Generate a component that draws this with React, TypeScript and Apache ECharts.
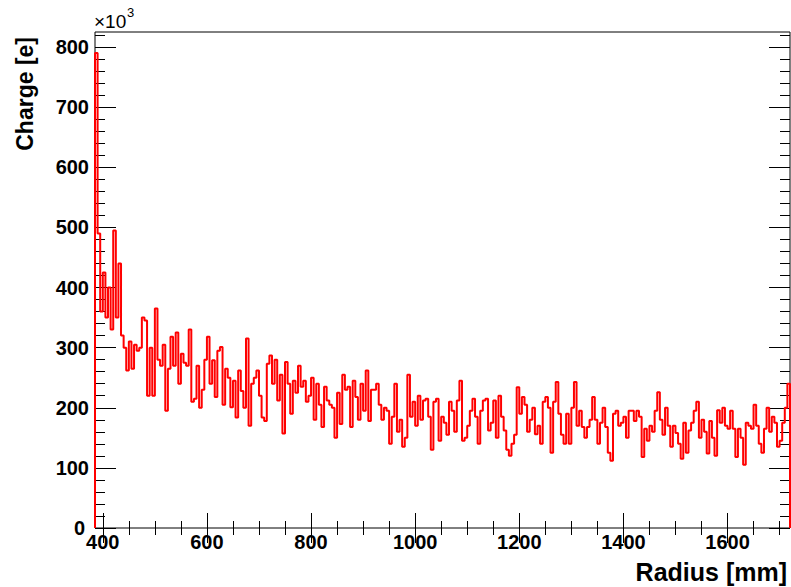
import React, { useEffect, useRef } from "react";
import * as echarts from "echarts";

// Histogram: bins of 5 mm starting at 385 mm; values in units of 10^3 e
const binStart = 385;
const binWidth = 5;
const xMin = 385;
const xMax = 1720;
const yMin = 0;
const yMax = 825;

const xLabelTicks = [400, 600, 800, 1000, 1200, 1400, 1600];
const yLabelTicks = [0, 100, 200, 300, 400, 500, 600, 700, 800];

const chargeA = [
  790, 490, 360, 425, 350, 400, 330, 495, 350, 440, 320, 300, 262, 310, 265, 305, 295, 300, 350, 345, 220, 300,
  220, 365, 280, 270, 305, 195, 265, 318, 270, 325, 240, 290, 275, 270, 330, 210, 215, 270, 200, 230, 280, 318,
];
const chargeB = [
  240, 279, 218, 295, 301, 205, 265, 250, 201, 245, 184, 262, 228, 200, 315, 170, 240, 250, 262, 220, 184, 178,
  273, 287, 240, 280, 212, 255, 157, 276, 240, 190, 245, 225, 270, 235, 245, 210, 220, 250, 180, 240, 205, 168, 235,
];
const chargeC = [
  212, 205, 200, 150, 225, 173, 255, 230, 235, 168, 245, 218, 180, 240, 195, 262, 178, 230, 230, 240, 205, 180,
  200, 195, 140, 185, 240, 160, 180, 135, 150, 255, 185, 210, 170, 220, 180, 212, 215, 185, 130, 210, 215, 145,
];
const chargeD = [
  185, 175, 155, 210, 195, 160, 212, 245, 145, 150, 170, 195, 215, 185, 140, 195, 212, 215, 162, 175, 212, 150,
  220, 185, 162, 130, 120, 140, 155, 234, 190, 218, 205, 160, 180, 200, 156, 170, 140, 210, 218, 200, 125, 210,
];
const chargeE = [
  243, 190, 155, 140, 190, 140, 200, 243, 170, 195, 168, 150, 168, 180, 218, 180, 140, 175, 200, 168, 125, 112,
  190, 195, 170, 175, 185, 150, 195, 195, 178, 195, 185, 118, 165, 145, 170, 160, 195, 226, 180, 155, 200, 170,
];
const chargeF = [
  135, 170, 158, 140, 115, 175, 125, 162, 175, 195, 210, 150, 180, 160, 124, 178, 150, 120, 196, 175, 200, 170,
  165, 195, 165, 118, 165, 150, 105, 175, 170, 165, 205, 170, 140, 125, 165, 200, 160, 185, 175, 135, 145, 175,
  200, 240,
];
const charge = [...chargeA, ...chargeB, ...chargeC, ...chargeD, ...chargeE, ...chargeF];

const FONT = "'Liberation Sans', Arial, Helvetica, sans-serif";

function buildSteps(): number[][] {
  const pts: number[][] = [[binStart, 0]];
  charge.forEach((v, i) => pts.push([binStart + i * binWidth, v]));
  const end = binStart + charge.length * binWidth;
  pts.push([end, charge[charge.length - 1]]);
  pts.push([end, 0]);
  return pts;
}

function minorList(from: number, to: number, step: number, majorStep: number): number[] {
  const out: number[] = [];
  for (let v = from; v <= to + 1e-9; v += step) {
    if (Math.abs(v % majorStep) > 1e-6) out.push(v);
  }
  return out;
}

export default function App() {
  const ref = useRef<HTMLDivElement>(null);
  useEffect(() => {
    document.body.style.margin = "0";
    const chart = echarts.init(ref.current!, undefined, { renderer: "svg" });
    const xMinor = minorList(400, 1700, 50, 200);
    const yMinor = minorList(20, 820, 20, 100);
    const tickStyle = { color: "#000", width: 1 };
    const labelStyle = {
      color: "#000",
      fontFamily: FONT,
      fontWeight: "bold" as const,
      fontSize: 20,
      lineHeight: 16,
    };
    const mkX = (position: string, ticks: number[], length: number, label: boolean) => ({
      type: "value",
      min: xMin,
      max: xMax,
      position,
      axisLine: { show: false },
      splitLine: { show: false },
      axisTick: { show: true, inside: true, length, customValues: ticks, lineStyle: tickStyle },
      axisLabel: label
        ? {
            show: true,
            customValues: xLabelTicks,
            margin: 6,
            formatter: (v: number) => String(v),
            ...labelStyle,
          }
        : { show: false },
    });
    const mkY = (position: string, ticks: number[], length: number, label: boolean) => ({
      type: "value",
      min: yMin,
      max: yMax,
      position,
      axisLine: { show: false },
      splitLine: { show: false },
      axisTick: { show: true, inside: true, length, customValues: ticks, lineStyle: tickStyle },
      axisLabel: label
        ? {
            show: true,
            customValues: yLabelTicks,
            margin: 6,
            formatter: (v: number) => (v === 0 ? "{z|0}" : String(v)),
            rich: {
              z: {
                color: "#000",
                fontFamily: FONT,
                fontWeight: "bold",
                fontSize: 20,
                lineHeight: 16,
                padding: [0, 4, 0, 0],
              },
            },
            ...labelStyle,
          }
        : { show: false },
    });
    chart.setOption({
      animation: false,
      backgroundColor: "#fff",
      grid: {
        left: 95,
        top: 32,
        width: 695,
        height: 496,
        show: true,
        borderColor: "#000",
        borderWidth: 1,
        backgroundColor: "transparent",
        containLabel: false,
        outerBoundsMode: "none",
      },
      xAxis: [
        mkX("bottom", xLabelTicks, 15, true),
        mkX("bottom", xMinor, 7, false),
        mkX("top", xLabelTicks, 15, false),
        mkX("top", xMinor, 7, false),
      ],
      yAxis: [
        mkY("left", yLabelTicks, 21, true),
        mkY("left", yMinor, 10, false),
        mkY("right", yLabelTicks, 21, false),
        mkY("right", yMinor, 10, false),
      ],
      series: [
        {
          type: "line",
          xAxisIndex: 0,
          yAxisIndex: 0,
          data: buildSteps(),
          step: "end",
          showSymbol: false,
          symbol: "none",
          lineStyle: { color: "#ff0000", width: 2 },
          silent: true,
        },
      ],
      graphic: [
        {
          type: "text",
          x: 25,
          y: 37,
          rotation: Math.PI / 2,
          style: {
            text: "Charge [e]",
            font: `bold 23px ${FONT}`,
            fill: "#000",
            textAlign: "right",
            textVerticalAlign: "middle",
          },
        },
        {
          type: "text",
          x: 787,
          y: 572,
          style: {
            text: "Radius [mm]",
            font: `bold 25px ${FONT}`,
            fill: "#000",
            textAlign: "right",
            textVerticalAlign: "middle",
          },
        },
        {
          type: "text",
          x: 94,
          y: 21,
          style: {
            text: "×10",
            font: `19px ${FONT}`,
            fill: "#000",
            textAlign: "left",
            textVerticalAlign: "middle",
          },
        },
        {
          type: "text",
          x: 127,
          y: 12,
          style: {
            text: "3",
            font: `13px ${FONT}`,
            fill: "#000",
            textAlign: "left",
            textVerticalAlign: "middle",
          },
        },
      ],
    });
    return () => chart.dispose();
  }, []);
  return <div ref={ref} style={{ width: 791, height: 587 }} />;
}
